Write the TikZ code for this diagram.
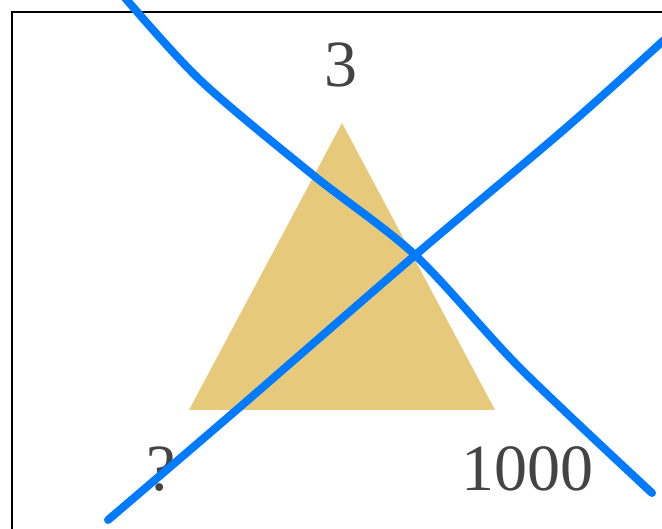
\documentclass[tikz,border=0pt]{standalone}
\usepackage{fontspec}
\setmainfont{Liberation Serif}
\definecolor{tri}{HTML}{E6C97B}
\definecolor{pen}{HTML}{007AFF}
\definecolor{txt}{HTML}{444444}
\tikzset{
  lbl/.style={anchor=base, inner sep=0pt, text=txt, font=\fontsize{66}{70}\selectfont},
  frame/.style={draw=black, line width=2pt},
  stroke/.style={draw=pen, line width=8pt, line cap=round, line join=round},
}
\begin{document}
\begin{tikzpicture}[x=1pt,y=-1pt]
\useasboundingbox (0,0) rectangle (662,529);
\clip (0,0) rectangle (662,529);
\fill[white] (0,0) rectangle (662,529);
\draw[frame] (12,12) rectangle (720,600);
\coordinate (apex) at (342,123);
\coordinate (bl) at (189,410);
\coordinate (br) at (495,410);
\fill[tri] (apex) -- (bl) -- (br) -- cycle;
\node[lbl] (top) at (341,87) {3};
\node[lbl] (q) at (161,491) {?};
\node[lbl] (k) at (527,491) {1000};
\draw[stroke] plot[smooth, tension=0.5] coordinates {(120,-8) (200,80) (313,175) (415,255) (520,368) (652,493)};
\draw[stroke] plot[smooth, tension=0.5] coordinates {(108,520) (233,413) (413,257) (567,127) (675,30)};
\end{tikzpicture}
\end{document}
